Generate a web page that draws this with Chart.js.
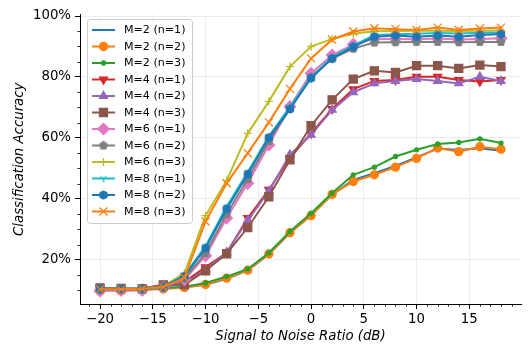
<!DOCTYPE html>
<html>
<head>
<meta charset="utf-8">
<script src="https://cdn.jsdelivr.net/npm/chart.js@4.4.1/dist/chart.umd.min.js"></script>
<style>
  html, body { margin: 0; padding: 0; background: #fff; }
</style>
</head>
<body>
<canvas id="chart" width="528" height="345"></canvas>
<script>
const snr = [-20, -18, -16, -14, -12, -10, -8, -6, -4, -2, 0, 2, 4, 6, 8, 10, 12, 14, 16, 18]

const seriesNames = [
  'M=2 (n=1)', 'M=2 (n=2)', 'M=2 (n=3)',
  'M=4 (n=1)', 'M=4 (n=2)', 'M=4 (n=3)',
  'M=6 (n=1)', 'M=6 (n=2)', 'M=6 (n=3)',
  'M=8 (n=1)', 'M=8 (n=2)', 'M=8 (n=3)',
]

// accuracy in %, one array per curve
const m2n1 = [10.2, 10.1, 10.3, 10.6, 11.0, 11.8, 13.8, 16.5, 21.8, 28.8, 34.6, 41.4, 46.2, 48.4, 50.8, 53.6, 56.5, 56.0, 56.6, 55.8]
const m2n2 = [10.1, 9.8, 10.1, 10.4, 10.9, 11.9, 14.0, 16.6, 21.9, 28.9, 34.5, 41.5, 45.7, 47.9, 50.4, 53.3, 56.7, 55.5, 57.1, 56.3]
const m2n3 = [10.3, 10.3, 10.4, 10.7, 11.2, 12.4, 14.5, 17.0, 22.3, 29.3, 35.3, 41.9, 47.9, 50.4, 53.9, 56.1, 58.0, 58.5, 59.7, 58.3]
const m4n1 = [10.7, 10.5, 10.6, 11.8, 12.8, 17.6, 22.3, 33.7, 43.0, 53.5, 61.5, 69.5, 76.0, 78.7, 79.0, 80.1, 80.1, 79.0, 78.5, 79.0]
const m4n2 = [10.4, 10.3, 10.2, 11.0, 12.3, 16.8, 22.5, 33.0, 42.5, 54.5, 61.0, 69.2, 75.0, 77.9, 78.7, 79.3, 78.7, 77.9, 80.1, 78.7]
const m4n3 = [10.8, 10.6, 10.5, 11.8, 11.8, 16.4, 22.0, 30.6, 40.7, 52.8, 64.0, 72.5, 79.3, 82.0, 81.5, 83.7, 83.7, 82.8, 83.9, 83.4]
const m6n1 = [9.8, 10.0, 10.0, 11.0, 13.5, 21.3, 33.7, 45.1, 57.7, 70.3, 81.2, 87.2, 90.7, 92.5, 92.5, 92.4, 92.6, 92.3, 92.5, 92.7]
const m6n2 = [10.2, 10.3, 10.2, 10.8, 13.8, 22.2, 35.0, 46.5, 59.0, 69.5, 80.0, 86.0, 89.3, 91.3, 91.4, 91.5, 91.5, 91.4, 91.5, 91.5]
const m6n3 = [10.5, 10.6, 10.6, 11.3, 15.6, 34.5, 46.0, 61.5, 72.0, 83.4, 90.0, 92.5, 94.2, 95.0, 95.1, 95.2, 95.2, 95.1, 95.2, 95.3]
const m8n1 = [10.4, 10.5, 10.5, 11.2, 15.0, 24.5, 37.5, 48.8, 60.5, 70.2, 80.0, 86.5, 90.3, 93.8, 94.0, 94.2, 94.4, 94.3, 94.5, 94.6]
const m8n2 = [10.5, 10.5, 10.6, 11.2, 14.6, 23.8, 36.7, 48.1, 60.1, 69.5, 79.6, 86.1, 89.9, 93.2, 93.6, 93.2, 93.6, 93.2, 93.8, 94.1]
const m8n3 = [10.3, 10.3, 10.5, 11.1, 14.1, 32.6, 45.1, 55.0, 65.1, 76.1, 86.1, 92.3, 94.9, 96.0, 95.7, 95.4, 96.2, 95.4, 95.9, 96.2]

const allSeries = [m2n1, m2n2, m2n3, m4n1, m4n2, m4n3, m6n1, m6n2, m6n3, m8n1, m8n2, m8n3]

const xTicks = [-20, -15, -10, -5, 0, 5, 10, 15]
const yTicks = [20, 40, 60, 80, 100]

const colors = ['#1f77b4', '#ff7f0e', '#2ca02c', '#d62728', '#9467bd', '#8c564b',
  '#e377c2', '#7f7f7f', '#bcbd22', '#17becf', '#1f77b4', '#ff7f0e']

const FONT = 'DejaVu Sans'

// markers chart.js does not have
function makeMarker( kind, color ) {
  const c = document.createElement( 'canvas' )
  c.width = 14
  c.height = 14
  const g = c.getContext( '2d' )
  g.translate( 7, 7 )
  g.strokeStyle = color
  g.fillStyle = color
  g.lineWidth = 1.33
  g.beginPath()
  if ( kind === 'tri_down' ) {
    g.moveTo( 0, 0 ); g.lineTo( 0, 4 )
    g.moveTo( 0, 0 ); g.lineTo( 3.2, -2 )
    g.moveTo( 0, 0 ); g.lineTo( -3.2, -2 )
    g.stroke()
  } else {
    const n = kind === 'pentagon' ? 5 : 6
    for ( let k = 0; k < n; k++ ) {
      const a = -Math.PI / 2 + k * 2 * Math.PI / n
      g.lineTo( 4 * Math.cos( a ), 4 * Math.sin( a ) )
    }
    g.closePath()
    g.fill()
    g.stroke()
  }
  return c
}

const markers = [
  { style: 'circle', radius: 0 },
  { style: 'circle', radius: 4 },
  { style: 'circle', radius: 2 },
  { style: 'triangle', radius: 4.6, rotation: 180 },
  { style: 'triangle', radius: 4.6 },
  { style: 'rect', radius: 5.66 },
  { style: 'rectRot', radius: 5.66 },
  { style: makeMarker( 'pentagon', colors[7] ), radius: 4 },
  { style: 'cross', radius: 4 },
  { style: makeMarker( 'tri_down', colors[9] ), radius: 4 },
  { style: makeMarker( 'hexagon', colors[10] ), radius: 4 },
  { style: 'crossRot', radius: 5.66 },
]

const datasets = allSeries.map( ( vals, i ) => ( {
  label: seriesNames[i],
  data: snr.map( ( x, j ) => ( { x: x, y: vals[j] } ) ),
  borderColor: colors[i],
  backgroundColor: colors[i],
  borderWidth: 2,
  tension: 0,
  pointStyle: markers[i].style,
  pointRadius: markers[i].radius,
  pointHoverRadius: markers[i].radius,
  pointRotation: markers[i].rotation || 0,
  pointBorderWidth: 1.33,
  order: 12 - i,
} ) )

// minor ticks like matplotlib
const minorTicks = {
  id: 'minorTicks',
  afterDraw( chart ) {
    const { ctx, scales: { x, y } } = chart
    ctx.save()
    ctx.strokeStyle = '#000'
    ctx.lineWidth = 0.8
    ctx.beginPath()
    for ( let v = -21; v <= 19; v++ ) {
      if ( v % 5 === 0 ) continue
      const px = Math.round( x.getPixelForValue( v ) ) + 0.5
      ctx.moveTo( px, y.bottom )
      ctx.lineTo( px, y.bottom + 2.7 )
    }
    for ( let v = 10; v <= 100; v += 5 ) {
      if ( v % 20 === 0 ) continue
      const py = Math.round( y.getPixelForValue( v ) ) + 0.5
      ctx.moveTo( x.left, py )
      ctx.lineTo( x.left - 2.7, py )
    }
    ctx.stroke()
    ctx.restore()
  }
}

// legend box inside the axes, upper left
const insideLegend = {
  id: 'insideLegend',
  afterDraw( chart ) {
    const ctx = chart.ctx
    ctx.save()
    ctx.beginPath()
    ctx.roundRect( 87.5, 19.5, 105, 204, 3 )
    ctx.fillStyle = 'rgba(255,255,255,0.8)'
    ctx.fill()
    ctx.strokeStyle = '#cccccc'
    ctx.lineWidth = 1
    ctx.stroke()
    ctx.font = '11.1px "' + FONT + '"'
    ctx.textBaseline = 'middle'
    ctx.textAlign = 'left'
    datasets.forEach( ( ds, i ) => {
      const yy = 30 + 16.5 * i
      ctx.strokeStyle = ds.borderColor
      ctx.lineWidth = 2
      ctx.beginPath()
      ctx.moveTo( 92, yy )
      ctx.lineTo( 115, yy )
      ctx.stroke()
      if ( ds.pointRadius > 0 ) {
        ctx.fillStyle = ds.backgroundColor
        ctx.strokeStyle = ds.borderColor
        ctx.lineWidth = 1.33
        Chart.helpers.drawPoint( ctx, {
          pointStyle: ds.pointStyle,
          rotation: ds.pointRotation,
          radius: ds.pointRadius,
          borderWidth: 1.33,
        }, 103.5, yy )
      }
      ctx.fillStyle = '#000'
      ctx.fillText( ds.label, 124, yy + 0.5 )
    } )
    ctx.restore()
  }
}

const gridCfg = {
  color: '#ebebeb',
  lineWidth: 1,
  tickColor: '#000',
  tickLength: 5,
  tickWidth: 1,
}

new Chart( document.getElementById( 'chart' ), {
  type: 'line',
  data: { datasets: datasets },
  options: {
    responsive: false,
    animation: false,
    devicePixelRatio: 1,
    layout: { padding: { top: 14.5, right: 2, left: 0, bottom: 0 } },
    plugins: {
      legend: { display: false },
      tooltip: { enabled: false },
    },
    scales: {
      x: {
        type: 'linear',
        min: -21.9,
        max: 19.9,
        afterBuildTicks: ( s ) => { s.ticks = xTicks.map( ( v ) => ( { value: v } ) ) },
        afterFit: ( s ) => { s.height = 41 },
        ticks: {
          color: '#000',
          font: { family: FONT, size: 13.3 },
          padding: 3,
          maxRotation: 0,
          callback: ( v ) => String( v ).replace( '-', '\u2212' ),
        },
        grid: gridCfg,
        border: { display: true, color: '#000', width: 1 },
        title: {
          display: true,
          text: 'Signal to Noise Ratio (dB)',
          color: '#000',
          font: { family: FONT, size: 13.3, style: 'italic', lineHeight: 1 },
          padding: { top: 0, bottom: 2 },
        },
      },
      y: {
        type: 'linear',
        min: 5.5,
        max: 100.5,
        afterBuildTicks: ( s ) => { s.ticks = yTicks.map( ( v ) => ( { value: v } ) ) },
        afterFit: ( s ) => { s.width = 80 },
        ticks: {
          color: '#000',
          font: { family: FONT, size: 13.3 },
          padding: 4,
          callback: ( v ) => v + '%',
        },
        grid: gridCfg,
        border: { display: true, color: '#000', width: 1 },
        title: {
          display: true,
          text: 'Classification Accuracy',
          color: '#000',
          font: { family: FONT, size: 13.3, style: 'italic', lineHeight: 1 },
          padding: { top: 13, bottom: 0 },
        },
      },
    },
  },
  plugins: [minorTicks, insideLegend],
} )
</script>
</body>
</html>
